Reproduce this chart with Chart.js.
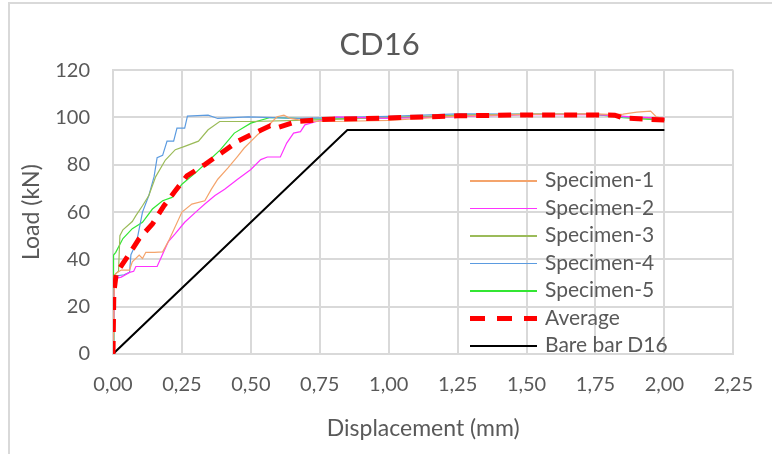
<!DOCTYPE html>
<html>
<head>
<meta charset="utf-8">
<script src="https://cdn.jsdelivr.net/npm/chart.js@4.4.1/dist/chart.umd.min.js"></script>
<style>
  body { margin: 0; background: #fff; }
  #wrap { position: relative; width: 772px; height: 454px; overflow: hidden; }
  #frame { position: absolute; left: 8px; top: 2px; right: -10px; bottom: -10px;
           border-left: 2px solid #d9d9d9; border-top: 2px solid #d9d9d9; }
  #myChart { position: absolute; left: 0; top: 0; }
  #legend { position: absolute; left: 466px; top: 167px; font-family: Lato, sans-serif;
            font-size: 21px; color: #595959; }
  .row { position: relative; height: 27.5px; line-height: 27.5px; white-space: nowrap; }
  .sample { position: absolute; left: 4px; width: 67px; }
  .label { position: absolute; left: 79px; top: -2px; }
</style>
</head>
<body>
<div id="wrap">
  <div id="frame"></div>
  <canvas id="myChart" width="772" height="454"></canvas>
  <div id="legend"></div>
</div>
<script>
// values (displacement in mm, load in kN)
const spec1Disp = [0, 0.005, 0.01, 0.03, 0.06, 0.07, 0.095, 0.107, 0.119, 0.15, 0.18, 0.2, 0.25, 0.286, 0.333, 0.357, 0.38, 0.417, 0.452, 0.476, 0.5, 0.524, 0.56, 0.595, 0.62, 0.643, 0.7, 0.8, 1.0, 1.25, 1.5, 1.75, 1.82, 1.85, 1.9, 1.95, 1.97, 2.0];
const spec1Load = [0, 30, 34, 35.5, 35.5, 39, 41.8, 40.4, 43, 43, 43.2, 47.4, 60, 63.4, 64.8, 69.7, 73.9, 78.7, 83.6, 87.1, 89.9, 92.7, 96.2, 100.3, 101, 99.6, 98.5, 98.3, 98.8, 100.6, 101.3, 101.5, 101.2, 101.4, 102.3, 102.7, 100.3, 99.4];

const spec2Disp = [0, 0.005, 0.01, 0.03, 0.06, 0.075, 0.083, 0.16, 0.2, 0.226, 0.26, 0.3, 0.333, 0.37, 0.405, 0.452, 0.5, 0.536, 0.56, 0.607, 0.63, 0.655, 0.68, 0.696, 0.738, 0.81, 1.0, 1.25, 1.5, 1.75, 1.85, 2.0];
const spec2Load = [0, 28, 32, 32.5, 34.5, 35, 37, 37, 47.4, 50.9, 55.7, 60, 63.4, 67, 69.7, 73.9, 78, 82.2, 83.3, 83.3, 89.2, 93.4, 94, 96.9, 98.3, 100.3, 99.6, 100.4, 101.2, 101.3, 100.5, 99.6];

const spec3Disp = [0, 0.003, 0.01, 0.02, 0.025, 0.036, 0.07, 0.083, 0.107, 0.13, 0.155, 0.19, 0.226, 0.26, 0.31, 0.345, 0.387, 0.5, 0.75, 1.0, 1.25, 1.5, 1.75, 1.85, 2.0];
const spec3Load = [0, 33, 34, 35, 50, 52.5, 56, 58.5, 62.7, 67, 75, 82, 86.4, 87.8, 90, 94.8, 98.3, 98.3, 99, 100, 100.9, 101.4, 101.4, 100.5, 99];

const spec4Disp = [0, 0.003, 0.01, 0.04, 0.06, 0.065, 0.085, 0.107, 0.13, 0.149, 0.16, 0.18, 0.196, 0.22, 0.232, 0.26, 0.27, 0.345, 0.38, 0.49, 0.67, 1.0, 1.25, 1.5, 1.75, 1.85, 2.0];
const spec4Load = [0, 30, 33, 33.5, 34.5, 42, 47, 60, 67, 75, 83, 84, 90, 90, 95.5, 95.5, 100.6, 101, 99.6, 100.3, 99.6, 100.5, 101.5, 101.4, 101.3, 100.3, 99.2];

const spec5Disp = [0, 0.002, 0.01, 0.036, 0.07, 0.107, 0.143, 0.18, 0.214, 0.25, 0.3, 0.345, 0.39, 0.44, 0.5, 0.57, 0.75, 1.0, 1.25, 1.5, 1.75, 1.85, 2.0];
const spec5Load = [0, 41.8, 43, 48.8, 53, 55.7, 61.3, 64.8, 66.2, 71.8, 76.7, 81.5, 86.4, 93.4, 97.6, 100, 99.3, 99.8, 100.8, 101.3, 101.3, 99.9, 98.8];

const avgDisp = [0, 0.003, 0.012, 0.06, 0.095, 0.143, 0.185, 0.226, 0.268, 0.333, 0.393, 0.452, 0.524, 0.57, 0.6, 0.667, 0.76, 1.0, 1.25, 1.5, 1.75, 1.82, 1.85, 2.0];
const avgLoad = [0, 25.8, 34.1, 42.5, 48.8, 55, 62.7, 69, 75.3, 80.1, 85, 89.9, 94, 96.5, 95.8, 98.3, 99.2, 99.8, 100.7, 101.1, 101.1, 101, 99.8, 98.9];

const bareDisp = [0, 0.85, 2.0];
const bareLoad = [0, 94.7, 94.7];

const seriesNames = ['Specimen-1', 'Specimen-2', 'Specimen-3', 'Specimen-4', 'Specimen-5', 'Average', 'Bare bar D16'];

function toPoints(xs, ys) {
    return xs.map((x, i) => ({ x: x, y: ys[i] }));
}

function thinLine(label, xs, ys, color) {
    return {
        label: label,
        data: toPoints(xs, ys),
        borderColor: color,
        borderWidth: 1.2,
        pointRadius: 0,
        showLine: true,
        order: 3
    };
}

const textColor = '#595959';
const gridColor = '#d9d9d9';

Chart.defaults.font.family = 'Lato';

const ctx = document.getElementById('myChart').getContext('2d');
const myChart = new Chart(ctx, {
    type: 'scatter',
    data: {
        datasets: [
            thinLine(seriesNames[0], spec1Disp, spec1Load, '#f4a46c'),
            thinLine(seriesNames[1], spec2Disp, spec2Load, '#ff33ff'),
            thinLine(seriesNames[2], spec3Disp, spec3Load, '#9bbb59'),
            thinLine(seriesNames[3], spec4Disp, spec4Load, '#5b9be0'),
            thinLine(seriesNames[4], spec5Disp, spec5Load, '#33e633'),
            {
                label: seriesNames[5],
                data: toPoints(avgDisp, avgLoad),
                borderColor: '#ff0000',
                borderWidth: 5,
                borderDash: [13, 9],
                pointRadius: 0,
                showLine: true,
                order: 0
            },
            {
                label: seriesNames[6],
                data: toPoints(bareDisp, bareLoad),
                borderColor: '#000000',
                borderWidth: 2,
                pointRadius: 0,
                showLine: true,
                order: 2
            }
        ]
    },
    options: {
        responsive: false,
        animation: false,
        layout: { padding: { left: 13, right: 26, top: 0, bottom: 0 } },
        plugins: {
            legend: { display: false },
            tooltip: { enabled: false },
            title: {
                display: true,
                text: 'CD16',
                color: textColor,
                font: { size: 31, weight: 'normal' },
                padding: { top: 26, bottom: 7 }
            }
        },
        scales: {
            x: {
                type: 'linear',
                min: 0,
                max: 2.25,
                afterFit: s => { s.height = 100; },
                ticks: {
                    stepSize: 0.25,
                    color: textColor,
                    font: { size: 20 },
                    padding: 19,
                    maxRotation: 0,
                    callback: v => v.toFixed(2).replace('.', ',')
                },
                grid: { color: gridColor, lineWidth: 2, drawTicks: false },
                border: { color: gridColor, width: 2 },
                title: {
                    display: true,
                    text: 'Displacement (mm)',
                    color: textColor,
                    font: { size: 23 },
                    padding: { top: 0, bottom: 12 }
                }
            },
            y: {
                min: 0,
                max: 120,
                afterFit: s => { s.width = 100; },
                ticks: {
                    stepSize: 20,
                    color: textColor,
                    font: { size: 20 },
                    padding: 23
                },
                grid: { color: gridColor, lineWidth: 2, drawTicks: false },
                border: { color: gridColor, width: 2 },
                title: {
                    display: true,
                    text: 'Load (kN)',
                    color: textColor,
                    font: { size: 23 },
                    padding: { top: 5, bottom: 0 }
                }
            }
        }
    }
});

// legend drawn as html so it can sit inside the plot area like the original
const legendBox = document.getElementById('legend');
myChart.data.datasets.forEach(ds => {
    let row = document.createElement('div');
    row.className = 'row';
    let sample = document.createElement('div');
    sample.className = 'sample';
    let h = ds.borderWidth >= 4 ? 5 : (ds.borderWidth >= 2 ? 2 : 1.5);
    sample.style.height = h + 'px';
    sample.style.top = (13.75 - h / 2) + 'px';
    if (ds.borderDash) {
        sample.style.background = 'repeating-linear-gradient(to right, ' + ds.borderColor + ' 0 15px, transparent 15px 27px)';
    } else {
        sample.style.background = ds.borderColor;
    }
    let label = document.createElement('div');
    label.className = 'label';
    label.innerText = ds.label;
    row.appendChild(sample);
    row.appendChild(label);
    legendBox.appendChild(row);
});
</script>
</body>
</html>
